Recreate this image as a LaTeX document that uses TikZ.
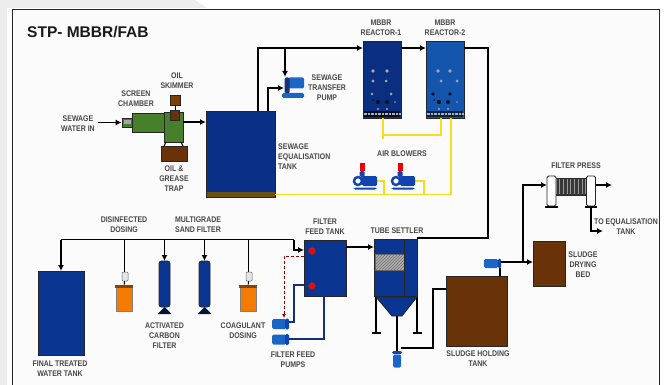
\documentclass[tikz,border=0pt]{standalone}
\usepackage{fontspec}
\setmainfont{Liberation Sans}
\newfontfamily\plantfont[FakeStretch=0.85]{Liberation Sans}
\usetikzlibrary{calc}
\usetikzlibrary{patterns,arrows.meta}
\definecolor{navytank}{HTML}{0A3590}
\definecolor{eqblue}{HTML}{0A2F86}
\definecolor{darkreactor}{HTML}{0B2F80}
\definecolor{lightreactor}{HTML}{1456AE}
\definecolor{pumpblue}{HTML}{1A66C4}
\definecolor{blowerblue}{HTML}{1244B0}
\definecolor{sludge}{HTML}{6A3208}
\definecolor{scum}{HTML}{6B5210}
\definecolor{chamber}{HTML}{46802A}
\definecolor{dosing}{HTML}{F57A00}
\definecolor{airline}{HTML}{F8DC1E}
\definecolor{feedline}{HTML}{14307A}
\tikzset{
    lbl/.style={font=\plantfont\bfseries\fontsize{8.2}{10}\selectfont, align=center, text=black!72, inner sep=0pt},
    box/.style={rectangle, draw=black!85, line width=0.8pt, inner sep=0pt},
    pipe/.style={draw=black, line width=1.6pt, -{Latex[length=6pt,width=6pt]}},
    rawpipe/.style={draw=black, line width=1.6pt},
    thinpipe/.style={draw=black, line width=1pt},
    airpipe/.style={draw=airline, line width=1.4pt},
    bluepipe/.style={draw=feedline, line width=1.6pt},
    vessel/.style={box, fill=navytank, rounded corners=2.5pt, minimum width=11pt, minimum height=46pt},
    drum/.style={box, draw=black!50, fill=dosing, minimum width=16pt, minimum height=25pt},
    gauge/.style={box, draw=black!60, fill=black!10, rounded corners=1pt, line width=0.5pt, minimum width=6pt, minimum height=9pt},
    foot/.style={line width=1.6pt, draw=black},
    motor/.style={rectangle, fill=pumpblue, rounded corners=1.5pt, inner sep=0pt},
    ring/.style={circle, draw=blowerblue, line width=2.4pt, fill=white, minimum size=8pt, inner sep=0pt},
    vent/.style={rectangle, fill=red!92!black, minimum width=5pt, minimum height=8pt, inner sep=0pt},
    level/.style={circle, draw=black!70, line width=0.4pt, fill=red, minimum size=7pt, inner sep=0pt}
}
\begin{document}
\begin{tikzpicture}[x=1pt, y=-1pt]
    \useasboundingbox (0,0) rectangle (664,385);
    \clip (0,0) rectangle (664,385);
    \fill [white] (0,0) rectangle (664,385);
    \fill [black!7] (0,0) -- (195,0) -- (207,8) -- (7,8) -- (7,385) -- (0,385) -- cycle;
    \draw [fill=black!1.5, line width=1pt, draw=black!85] (12,10) rectangle (659.5,395);

    \node[anchor=west, font=\bfseries\fontsize{15.5}{18}\selectfont, text=black!90, inner sep=0pt] (title) at (27,32) {STP- MBBR/FAB};

    % raw sewage end
    \node[lbl] (rawlbl) at (78,124) {SEWAGE\\WATER IN};
    \node[box, fill=chamber, minimum width=10pt, minimum height=9pt] (inlet) at (127,122.5) {};
    \node[box, draw=none, fill=black!35, minimum width=7pt, minimum height=4pt] (inletcore) at (127.5,122.5) {};
    \node[box, fill=chamber, minimum width=33pt, minimum height=19pt] (screen) at (148.5,122.5) {};
    \node[box, fill=chamber, minimum width=19pt, minimum height=30pt] (chamberbox) at (173.5,127) {};
    \node[box, fill=sludge, minimum width=9pt, minimum height=10pt] (skimhead) at (175,115.5) {};
    \node[box, fill=sludge!85!orange, minimum width=10pt, minimum height=10pt] (skimtop) at (175,100) {};
    \node[box, fill=sludge, minimum width=26pt, minimum height=15pt] (trap) at (174,153.5) {};
    \node[lbl] (screenlbl) at (136,98.5) {SCREEN\\CHAMBER};
    \node[lbl] (skimlbl) at (177,81) {OIL\\SKIMMER};
    \node[lbl] (traplbl) at (174,179) {OIL \&\\GREASE\\TRAP};
    \coordinate (rawstart) at (98,122.5);
    \coordinate (legA) at (166,142);
    \coordinate (legB) at (181,142);
    \coordinate (trapA) at (164,146);
    \coordinate (trapB) at (183,146);
    \coordinate (chamberout) at (183,122);
    \coordinate (eqin) at (206,122);
    \draw[pipe] (rawstart) -- (inlet.west);
    \draw[thinpipe] (skimtop) -- (skimhead);
    \draw[thinpipe] (legA) -- (trapA);
    \draw[thinpipe] (legB) -- (trapB);
    \draw[pipe] (chamberout) -- (eqin);

    % equalisation tank and transfer pump
    \node[box, fill=eqblue, minimum width=69pt, minimum height=86pt] (eqtank) at (240.5,154) {};
    \node[box, draw=none, fill=scum, minimum width=68pt, minimum height=5pt] (eqscum) at (240.5,194.5) {};
    \node[lbl, align=left, anchor=north west] (eqlbl) at (278,144) {SEWAGE\\EQUALISATION\\TANK};
    \coordinate (eqoutA) at (258,111);
    \coordinate (eqoutB) at (268,111);
    \coordinate (rxinA) at (363,48);
    \coordinate (tap) at (285,48);
    \coordinate (tpin) at (285,77);
    \coordinate (tpsuct) at (284,88);
    \draw[pipe] (eqoutA) |- (rxinA);
    \draw[pipe] (tap) -- (tpin);
    \draw[pipe] (eqoutB) |- (tpsuct);
    \node[motor, minimum width=16pt, minimum height=11pt] (tpmotor) at (296,83) {};
    \node[motor, fill=feedline, minimum width=5pt, minimum height=16pt] (tpcase) at (287,85.5) {};
    \node[motor, minimum width=22pt, minimum height=5pt] (tpbase) at (293,95.5) {};
    \node[lbl] (tplbl) at (327,88) {SEWAGE\\TRANSFER\\PUMP};

    % reactors
    \node[box, fill=darkreactor, minimum width=38pt, minimum height=77pt] (rxA) at (382,79.5) {};
    \node[box, fill=lightreactor, minimum width=38pt, minimum height=77pt] (rxB) at (445,79.5) {};
    \node[box, draw=none, fill=black!70!darkreactor, minimum width=36pt, minimum height=6pt] (gridA) at (382,114) {};
    \node[box, draw=none, fill=black!60!lightreactor, minimum width=36pt, minimum height=6pt] (gridB) at (445,114) {};
    \draw[black!30, line width=1.6pt, dash pattern=on 0.7pt off 0.7pt] (gridA.west) -- (gridA.east);
    \draw[black!30, line width=1.6pt, dash pattern=on 0.7pt off 0.7pt] (gridB.west) -- (gridB.east);
    \fill [black!35] (373,71) circle (1.9) (387,71) circle (1.9) (373,81) circle (1.7) (386,81) circle (1.5)
        (372,94) circle (1.3) (391,94) circle (1.5) (395,102) circle (0.9) (378,109) circle (1.1)
        (387,109) circle (1.1) (438,71) circle (1.9) (450,71) circle (1.9) (441,81) circle (1.5)
        (457,81) circle (1.5) (457,102) circle (0.9) (439,109) circle (1.1) (448,109) circle (1.1);
    \fill [black!65!darkreactor] (378,102) circle (2.2) (387,102) circle (2) (373,100) circle (1)
        (433,94) circle (1.8) (450,94) circle (1.8) (439,102) circle (2.2) (448,102) circle (2) (434,100) circle (1);
    \node[lbl] (rxAlbl) at (381,27.5) {MBBR\\REACTOR-1};
    \node[lbl] (rxBlbl) at (445,27.5) {MBBR\\REACTOR-2};
    \coordinate (rxoutA) at (401,48);
    \coordinate (rxinB) at (426,48);
    \coordinate (rxoutB) at (464,48);
    \coordinate (bendA) at (488,238);
    \coordinate (tsin) at (417,238);
    \draw[pipe] (rxoutA) -- (rxinB);
    \draw[rawpipe] (rxoutB) -| (bendA) -- (tsin);

    % air blowers
    \node[lbl] (airlbl) at (402,154) {AIR BLOWERS};
    \coordinate (airstart) at (275,194.5);
    \coordinate (aircorner) at (451,194.5);
    \coordinate (airB) at (451,118);
    \coordinate (airA) at (383,118);
    \coordinate (airstub) at (383,139);
    \coordinate (airmid) at (441,135);
    \coordinate (airC) at (441,118);
    \coordinate (airlink) at (383,135);
    \coordinate (blowoutA) at (375,181);
    \coordinate (blowoutB) at (413,181);
    \coordinate (airjoinA) at (384,194.5);
    \coordinate (airjoinB) at (424,194.5);
    \draw[airpipe] (airstart) -- (aircorner) -- (airB);
    \draw[airpipe] (airA) -- (airstub);
    \draw[airpipe] (airlink) -- (airmid) -- (airC);
    \draw[airpipe] (blowoutA) -| (airjoinA);
    \draw[airpipe] (blowoutB) -| (airjoinB);
    \node[motor, fill=blowerblue, minimum width=15pt, minimum height=10pt] (blowA) at (369.5,181) {};
    \node[motor, fill=blowerblue, minimum width=15pt, minimum height=10pt] (blowB) at (407.5,181) {};
    \node[ring] (ringA) at (358,181) {};
    \node[ring] (ringB) at (396,181) {};
    \node[motor, fill=blowerblue, minimum width=5pt, minimum height=6pt] (neckA) at (362,174) {};
    \node[motor, fill=blowerblue, minimum width=5pt, minimum height=6pt] (neckB) at (400,174) {};
    \node[vent] (ventA) at (362,167) {};
    \node[vent] (ventB) at (400,167) {};
    \node[motor, fill=blowerblue, minimum width=23pt, minimum height=2pt] (baseA) at (365,188.5) {};
    \node[motor, fill=blowerblue, minimum width=23pt, minimum height=2pt] (baseB) at (403,188.5) {};

    % tube settler
    \coordinate (legC) at (376,297);
    \coordinate (legCb) at (376,333);
    \coordinate (legD) at (417,297);
    \coordinate (legDb) at (417,333);
    \coordinate (footCa) at (372,333);
    \coordinate (footCb) at (381,333);
    \coordinate (footDa) at (413,333);
    \coordinate (footDb) at (422,333);
    \draw[rawpipe] (legC) -- (legCb);
    \draw[rawpipe] (legD) -- (legDb);
    \draw[foot] (footCa) -- (footCb);
    \draw[foot] (footDa) -- (footDb);
    \node[box, fill=navytank, minimum width=43pt, minimum height=57pt] (settler) at (395.5,268) {};
    \node[box, draw=none, fill=black!32, minimum width=29pt, minimum height=16pt] (mediaback) at (389.5,262) {};
    \node[box, draw=black!60, pattern=north east lines, pattern color=black!55, minimum width=29pt, minimum height=16pt] (media) at (389.5,262) {};
    \fill [navytank, draw=black!85, line width=0.8pt] (376,297) -- (417,297) -- (402,316) -- (392,316) -- cycle;
    \node[lbl] (tslbl) at (397,231) {TUBE SETTLER};
    \coordinate (divtop) at (404.5,240);
    \coordinate (divbot) at (404.5,296);
    \draw[black!85, line width=0.8pt] (divtop) -- (divbot);

    % sludge line
    \node[box, fill=sludge, minimum width=61pt, minimum height=70pt] (holding) at (476.5,311) {};
    \node[box, fill=sludge, minimum width=32pt, minimum height=45pt] (dryingbed) at (549,263.5) {};
    \node[lbl] (holdinglbl) at (478,359) {SLUDGE HOLDING\\TANK};
    \node[lbl] (dryinglbl) at (583,265) {SLUDGE\\DRYING\\BED};
    \coordinate (conetip) at (397,316);
    \coordinate (lowpump) at (397,351);
    \coordinate (lowoutA) at (401,348);
    \coordinate (lowbend) at (433,348);
    \coordinate (holdin) at (446,289);
    \coordinate (holdout) at (500,276);
    \coordinate (pumptop) at (500,268);
    \coordinate (pumpout) at (500,262);
    \coordinate (bedin) at (533,262);
    \coordinate (pressup) at (523,262);
    \coordinate (pressin) at (547,185);
    \draw[rawpipe] (conetip) -- (lowpump);
    \draw[rawpipe] (lowoutA) -- (lowbend) |- (holdin);
    \draw[rawpipe] (holdout) -- (pumptop);
    \draw[pipe] (pumpout) -- (bedin);
    \draw[pipe] (pressup) |- (pressin);
    \node[motor, minimum width=8pt, minimum height=13pt] (sludgepumpA) at (397,361) {};
    \node[motor, fill=blowerblue, minimum width=10pt, minimum height=3pt] (flangeA) at (397,352.5) {};
    \node[motor, minimum width=14pt, minimum height=9pt] (sludgepumpB) at (491,263.5) {};
    \node[motor, fill=blowerblue, minimum width=3pt, minimum height=10pt] (flangeB) at (499.5,263.5) {};

    % filter press
    \node[box, fill=black!78, minimum width=30pt, minimum height=17pt] (plates) at (571,186.5) {};
    \draw[black!40, line width=15pt, dash pattern=on 0.5pt off 3.2pt] (plates.west) -- (plates.east);
    \node[box, fill=white, rounded corners=1.5pt, minimum width=9pt, minimum height=30pt] (pressA) at (551.5,191) {};
    \node[box, fill=white, rounded corners=1.5pt, minimum width=9pt, minimum height=30pt] (pressB) at (591,191) {};
    \node[lbl] (presslbl) at (576,166) {FILTER PRESS};
    \node[lbl] (toeqlbl) at (626,227) {TO EQUALISATION\\TANK};
    \coordinate (pressfootA) at (545,207);
    \coordinate (pressfootAb) at (558,207);
    \coordinate (pressfootB) at (585,207);
    \coordinate (pressfootBb) at (597,207);
    \coordinate (pressout) at (596,185);
    \coordinate (filtrate) at (612,185);
    \coordinate (cakeout) at (591,207);
    \coordinate (toeq) at (603,231);
    \draw[foot] (pressfootA) -- (pressfootAb);
    \draw[foot] (pressfootB) -- (pressfootBb);
    \draw[pipe] (pressout) -- (filtrate);
    \draw[pipe] (cakeout) |- (toeq);

    % filter feed tank and pumps
    \node[box, fill=navytank, minimum width=42pt, minimum height=56pt] (feedtank) at (325,268) {};
    \node[level] (levelA) at (312,251) {};
    \node[level] (levelB) at (312,286) {};
    \node[lbl] (feedlbl) at (325,227) {FILTER\\FEED TANK};
    \node[lbl] (feedpumplbl) at (293,360) {FILTER FEED\\PUMPS};
    \coordinate (feedin) at (304,250);
    \coordinate (outA) at (304,285);
    \coordinate (bendB) at (294,322);
    \coordinate (pumpA) at (285,322);
    \coordinate (outB) at (324,296);
    \coordinate (bendC) at (324,339);
    \coordinate (pumpB) at (285,339);
    \coordinate (dashA) at (304,256);
    \coordinate (dashB) at (284,256);
    \coordinate (dashC) at (284,318);
    \coordinate (settlerin) at (374,247);
    \coordinate (feedout) at (346,247);
    \draw[bluepipe] (outA) -| (bendB) -- (pumpA);
    \draw[bluepipe] (outB) -- (bendC) -- (pumpB);
    \draw[draw=red!60!black, line width=1pt, dash pattern=on 3pt off 2pt, -{Latex[length=4pt,width=4pt]}] (dashA) -- (dashB) -- (dashC);
    \draw[pipe] (feedout) -- (settlerin);
    \node[motor, minimum width=14pt, minimum height=10pt] (feedpumpA) at (279,324) {};
    \node[motor, minimum width=14pt, minimum height=10pt] (feedpumpB) at (279,339.5) {};
    \node[motor, fill=blowerblue, minimum width=4pt, minimum height=11pt] (flangeC) at (287,324) {};
    \node[motor, fill=blowerblue, minimum width=4pt, minimum height=11pt] (flangeD) at (287,339.5) {};

    % polishing line
    \node[box, fill=navytank, minimum width=46pt, minimum height=84pt] (finaltank) at (61,313) {};
    \node[lbl] (finallbl) at (60,369) {FINAL TREATED\\WATER TANK};
    \node[drum] (drumA) at (124,298.5) {};
    \node[drum] (drumB) at (248,298.5) {};
    \node[box, draw=none, fill=sludge!80!orange, minimum width=18pt, minimum height=3pt] (capA) at (124,286.5) {};
    \node[box, draw=none, fill=sludge!80!orange, minimum width=18pt, minimum height=3pt] (capB) at (248,286.5) {};
    \node[vessel] (carbon) at (164.5,284) {};
    \node[vessel] (sand) at (204.5,284) {};
    \fill [black!60!navytank] (164.5,307) -- (171.5,314) -- (157.5,314) -- cycle;
    \fill [black!60!navytank] (204.5,307) -- (211.5,314) -- (197.5,314) -- cycle;
    \node[lbl] (dislbl) at (124,225) {DISINFECTED\\DOSING};
    \node[lbl] (sandlbl) at (198,225) {MULTIGRADE\\SAND FILTER};
    \node[lbl] (carbonlbl) at (164.5,336) {ACTIVATED\\CARBON\\FILTER};
    \node[lbl] (coaglbl) at (243,330.5) {COAGULANT\\DOSING};
    \coordinate (hdrL) at (61,239.5);
    \coordinate (hdrR) at (294,239.5);
    \coordinate (hdrA) at (124.5,239.5);
    \coordinate (hdrB) at (164.5,239.5);
    \coordinate (hdrC) at (204.5,239.5);
    \coordinate (hdrD) at (248.5,239.5);
    \coordinate (finalin) at (61,271);
    \coordinate (carbonin) at (164.5,261);
    \coordinate (sandin) at (204.5,261);
    \coordinate (gaugeAin) at (124.5,272);
    \coordinate (gaugeBin) at (248.5,272);
    \coordinate (hdrdrop) at (294,250);
    \draw[rawpipe] (hdrL) -- (hdrR);
    \draw[pipe] (hdrL) -- (finalin);
    \draw[pipe] (hdrB) -- (carbonin);
    \draw[pipe] (hdrC) -- (sandin);
    \draw[thinpipe] (hdrA) -- (gaugeAin);
    \draw[thinpipe] (hdrD) -- (gaugeBin);
    \node[gauge] (gaugeA) at (125,276.5) {};
    \node[gauge] (gaugeB) at (249,276.5) {};
    \draw[thinpipe] (gaugeA) -- (capA);
    \draw[thinpipe] (gaugeB) -- (capB);
    \draw[pipe] (hdrR) -- (hdrdrop) -- (feedin);
\end{tikzpicture}
\end{document}
